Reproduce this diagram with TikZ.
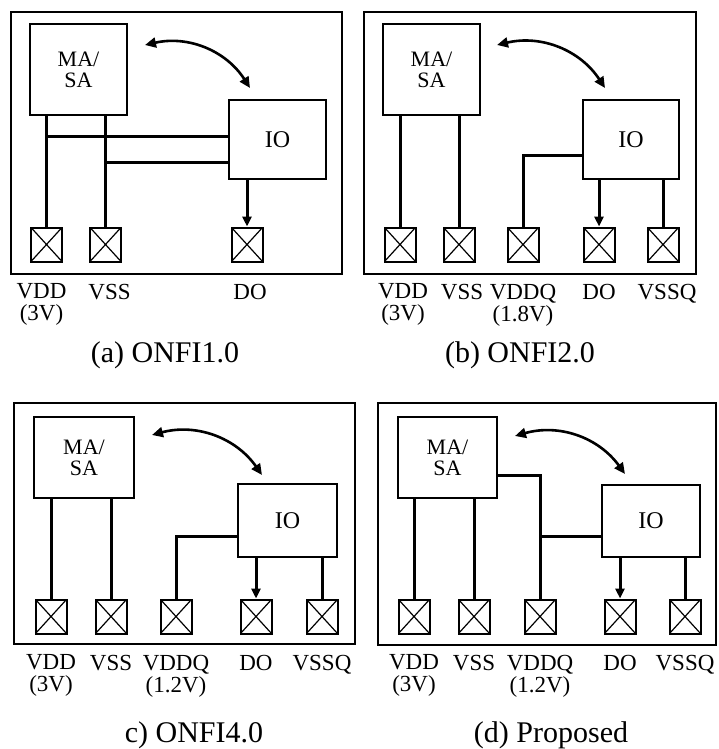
\documentclass[tikz,border=0pt]{standalone}
\usepackage{fontspec}
\setmainfont{Liberation Serif}
\usetikzlibrary{arrows.meta,positioning}

\begin{document}
\begin{tikzpicture}[x=0.5pt,y=-0.5pt,
    chipbox/.style={draw,line width=1pt},
    blk/.style={draw,line width=1pt,inner sep=0pt,align=center,
                font=\fontsize{11}{10.5}\selectfont},
    padbox/.style={draw,line width=1pt,inner sep=0pt,
                   minimum width=15.5pt,minimum height=17pt,
                   path picture={\draw[line width=0.6pt]
                     (path picture bounding box.north west) -- (path picture bounding box.south east)
                     (path picture bounding box.north east) -- (path picture bounding box.south west);}},
    wire/.style={line width=1.5pt},
    sig/.style={line width=1.5pt,-{Triangle[length=5pt,width=4.5pt]}},
    swap/.style={line width=1.3pt,{Triangle[length=5.5pt,width=5pt]}-{Triangle[length=5.5pt,width=5pt]}},
    lbl/.style={inner sep=0pt,align=center,font=\fontsize{11.5}{11}\selectfont},
    capt/.style={inner sep=0pt,font=\fontsize{15}{18}\selectfont}]
  \useasboundingbox (0,0) rectangle (718,749);

  % (a) ONFI1.0
  \draw[chipbox] (11,12) rectangle (342,274);
  \node[blk,minimum width=48.5pt,minimum height=45.5pt] (a-ma) at (78.5,69.5) {MA/\\SA};
  \node[blk,minimum width=48.5pt,minimum height=39.5pt,font=\fontsize{12}{12}\selectfont] (a-io) at (277.5,139.5) {IO};
  \node[padbox] (a-p1) at (46.5,244.5) {};
  \node[padbox] (a-p2) at (105.5,244.5) {};
  \node[padbox] (a-p3) at (247,244.5) {};
  \coordinate (a-h1) at (0,136);
  \coordinate (a-h2) at (0,162);
  \draw[wire] (a-ma.south -| a-p1) -- (a-p1.north);
  \draw[wire] (a-ma.south -| a-p2) -- (a-p2.north);
  \draw[wire] (a-p1 |- a-h1) -- (a-io.west |- a-h1);
  \draw[wire] (a-p2 |- a-h2) -- (a-io.west |- a-h2);
  \draw[sig] (a-io.south -| a-p3) -- (a-p3.north);
  \coordinate (a-t1) at (145,45);
  \coordinate (a-t2) at (250,88);
  \draw[swap] (a-t1) to[bend left=35] (a-t2);
  \node[lbl,below=10.5pt of a-p1,xshift=-2.5pt] (a-l1) {VDD\\(3V)};
  \node[lbl,below=10.5pt of a-p2,xshift=2pt] (a-l2) {VSS};
  \node[lbl,below=10.5pt of a-p3,xshift=1.5pt] (a-l3) {DO};
  \node[capt] (a-cap) at (165,355) {(a) ONFI1.0};

  % (b) ONFI2.0
  \draw[chipbox] (364,12) rectangle (696,274);
  \node[blk,minimum width=48.5pt,minimum height=45.5pt] (b-ma) at (431.5,69.5) {MA/\\SA};
  \node[blk,minimum width=48pt,minimum height=39.5pt,font=\fontsize{12}{12}\selectfont] (b-io) at (631,139.5) {IO};
  \node[padbox] (b-p1) at (400,244.5) {};
  \node[padbox] (b-p2) at (459,244.5) {};
  \node[padbox] (b-p3) at (523,244.5) {};
  \node[padbox] (b-p4) at (599,244.5) {};
  \node[padbox] (b-p5) at (663,244.5) {};
  \coordinate (b-h1) at (0,155);
  \draw[wire] (b-ma.south -| b-p1) -- (b-p1.north);
  \draw[wire] (b-ma.south -| b-p2) -- (b-p2.north);
  \draw[wire] (b-io.west |- b-h1) -| (b-p3.north);
  \draw[sig] (b-io.south -| b-p4) -- (b-p4.north);
  \draw[wire] (b-io.south -| b-p5) -- (b-p5.north);
  \coordinate (b-t1) at (497,45);
  \coordinate (b-t2) at (605,88);
  \draw[swap] (b-t1) to[bend left=35] (b-t2);
  \node[lbl,below=10.5pt of b-p1,xshift=1.5pt] (b-l1) {VDD\\(3V)};
  \node[lbl,below=10.5pt of b-p2,xshift=1.5pt] (b-l2) {VSS};
  \node[lbl,below=10.5pt of b-p3] (b-l3) {VDDQ\\(1.8V)};
  \node[lbl,below=10.5pt of b-p4] (b-l4) {DO};
  \node[lbl,below=10.5pt of b-p5,xshift=2pt] (b-l5) {VSSQ};
  \node[capt] (b-cap) at (520,355) {(b) ONFI2.0};

  % c) ONFI4.0
  \draw[chipbox] (14,403) rectangle (355,644);
  \node[blk,minimum width=50pt,minimum height=40.5pt] (c-ma) at (84,457.5) {MA/\\SA};
  \node[blk,minimum width=49.5pt,minimum height=36.5pt,font=\fontsize{12}{12}\selectfont] (c-io) at (287.5,520.5) {IO};
  \node[padbox] (c-p1) at (51,616.5) {};
  \node[padbox] (c-p2) at (111,616.5) {};
  \node[padbox] (c-p3) at (176,616.5) {};
  \node[padbox] (c-p4) at (256,616.5) {};
  \node[padbox] (c-p5) at (322,616.5) {};
  \coordinate (c-h1) at (0,536);
  \draw[wire] (c-ma.south -| c-p1) -- (c-p1.north);
  \draw[wire] (c-ma.south -| c-p2) -- (c-p2.north);
  \draw[wire] (c-io.west |- c-h1) -| (c-p3.north);
  \draw[sig] (c-io.south -| c-p4) -- (c-p4.north);
  \draw[wire] (c-io.south -| c-p5) -- (c-p5.north);
  \coordinate (c-t1) at (152,435);
  \coordinate (c-t2) at (262,475);
  \draw[swap] (c-t1) to[bend left=35] (c-t2);
  \node[lbl,below=10pt of c-p1] (c-l1) {VDD\\(3V)};
  \node[lbl,below=10pt of c-p2] (c-l2) {VSS};
  \node[lbl,below=10pt of c-p3] (c-l3) {VDDQ\\(1.2V)};
  \node[lbl,below=10pt of c-p4] (c-l4) {DO};
  \node[lbl,below=10pt of c-p5] (c-l5) {VSSQ};
  \node[capt] (c-cap) at (194,735) {c) ONFI4.0};

  % (d) Proposed
  \draw[chipbox] (378,403) rectangle (716,645);
  \node[blk,minimum width=49.5pt,minimum height=40.5pt] (d-ma) at (447.5,457.5) {MA/\\SA};
  \node[blk,minimum width=49pt,minimum height=36pt,font=\fontsize{12}{12}\selectfont] (d-io) at (651,521) {IO};
  \node[padbox] (d-p1) at (414,616.5) {};
  \node[padbox] (d-p2) at (474,616.5) {};
  \node[padbox] (d-p3) at (540,616.5) {};
  \node[padbox] (d-p4) at (620,616.5) {};
  \node[padbox] (d-p5) at (685,616.5) {};
  \coordinate (d-h1) at (0,475);
  \coordinate (d-h2) at (0,536);
  \draw[wire] (d-ma.south -| d-p1) -- (d-p1.north);
  \draw[wire] (d-ma.south -| d-p2) -- (d-p2.north);
  \draw[wire] (d-ma.east |- d-h1) -| (d-p3.north);
  \draw[wire] (d-p3 |- d-h2) -- (d-io.west |- d-h2);
  \draw[sig] (d-io.south -| d-p4) -- (d-p4.north);
  \draw[wire] (d-io.south -| d-p5) -- (d-p5.north);
  \coordinate (d-t1) at (515,436);
  \coordinate (d-t2) at (625,474);
  \draw[swap] (d-t1) to[bend left=35] (d-t2);
  \node[lbl,below=10pt of d-p1] (d-l1) {VDD\\(3V)};
  \node[lbl,below=10pt of d-p2] (d-l2) {VSS};
  \node[lbl,below=10pt of d-p3] (d-l3) {VDDQ\\(1.2V)};
  \node[lbl,below=10pt of d-p4] (d-l4) {DO};
  \node[lbl,below=10pt of d-p5] (d-l5) {VSSQ};
  \node[capt] (d-cap) at (551,735) {(d) Proposed};
\end{tikzpicture}
\end{document}
